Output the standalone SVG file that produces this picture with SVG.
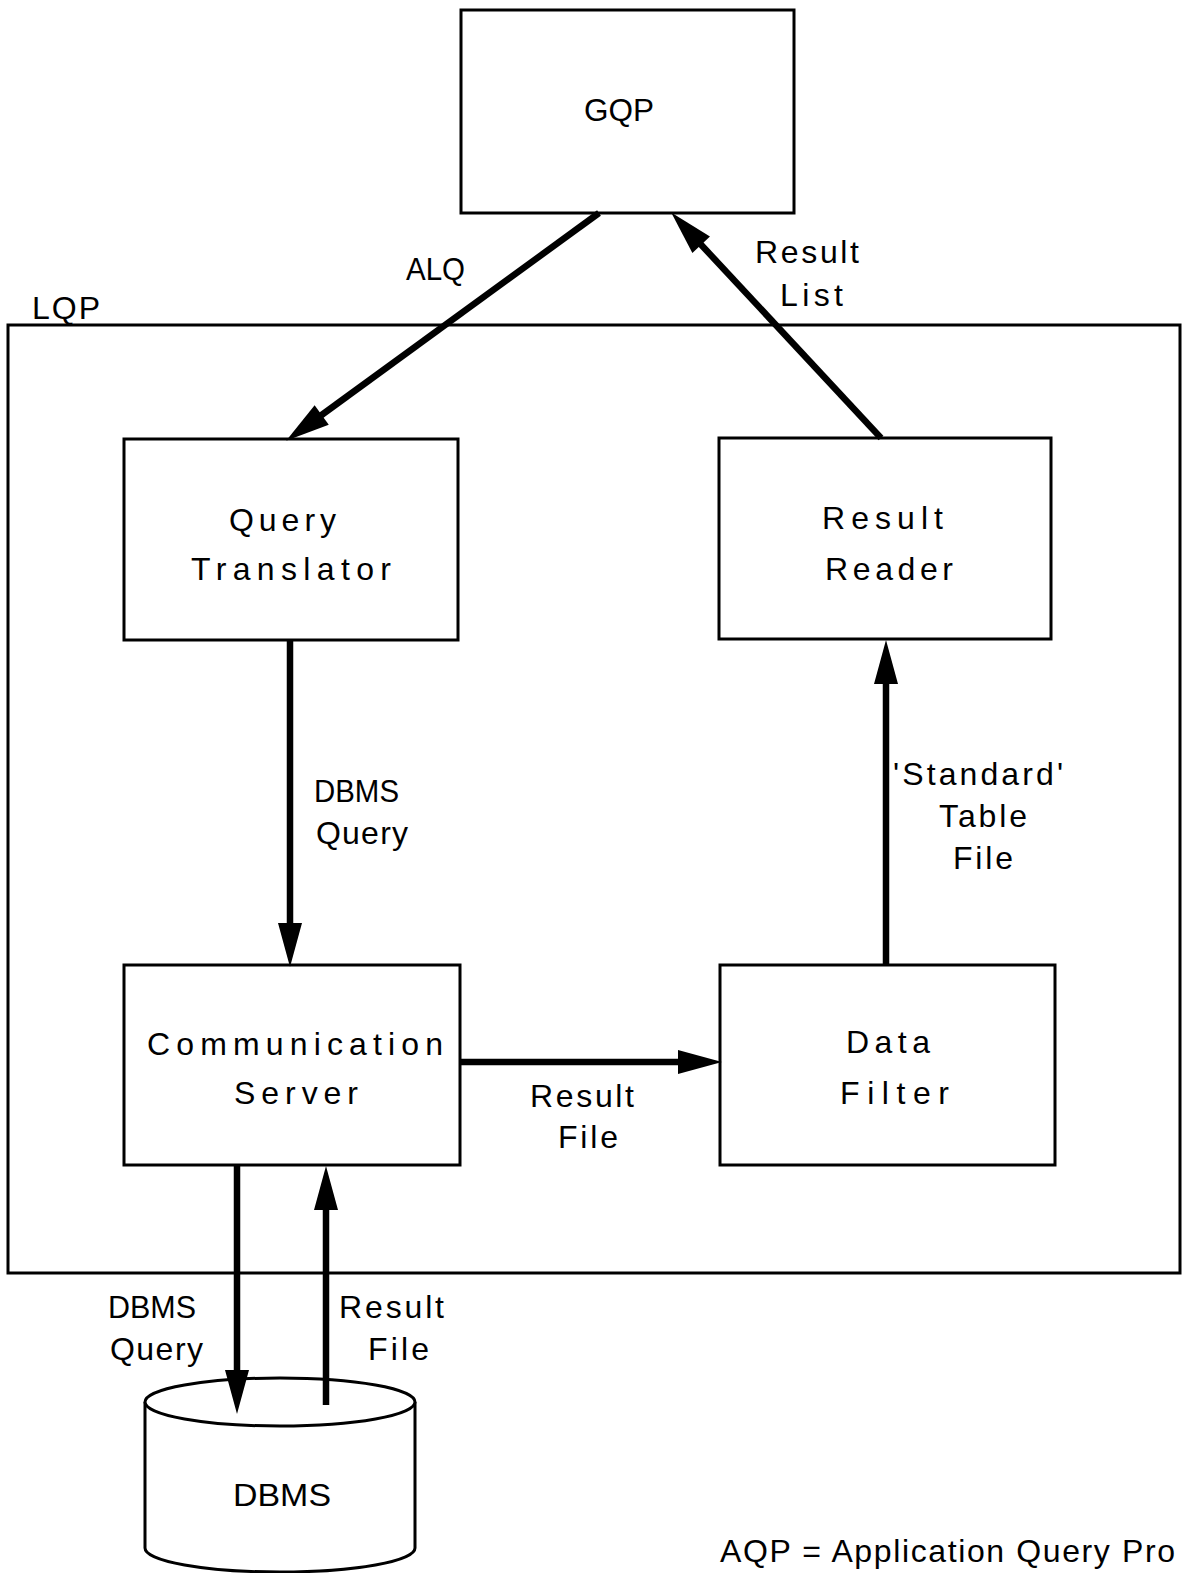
<svg xmlns="http://www.w3.org/2000/svg" width="1183" height="1573" viewBox="0 0 1183 1573">
<style>
.box{fill:none;stroke:#000;stroke-width:3}
.conn{fill:none;stroke:#000;stroke-width:6.5}
.t{font-family:"Liberation Sans",Arial,sans-serif;font-size:32px;fill:#000}
</style>
<defs>
<marker id="ah" markerUnits="userSpaceOnUse" markerWidth="44" markerHeight="24" refX="12" refY="12" orient="auto" overflow="visible">
<path d="M0,0 L44,12 L0,24 z" fill="#000"/>
</marker>
</defs>
<rect width="1183" height="1573" fill="#fff"/>
<g id="lqp">
<rect class="box" x="8" y="325" width="1172" height="948"/>
<text class="t" x="32" y="319" textLength="68" lengthAdjust="spacing">LQP</text>
</g>
<g id="gqp">
<rect class="box" x="461" y="10" width="333" height="203"/>
<text class="t" x="584" y="121" textLength="70" lengthAdjust="spacingAndGlyphs">GQP</text>
</g>
<g id="query-translator">
<rect class="box" x="124" y="439" width="334" height="201"/>
<text class="t" x="229" y="531" textLength="107" lengthAdjust="spacing">Query</text>
<text class="t" x="191" y="580" textLength="200" lengthAdjust="spacing">Translator</text>
</g>
<g id="result-reader">
<rect class="box" x="719" y="438" width="332" height="201"/>
<text class="t" x="822" y="529" textLength="121" lengthAdjust="spacing">Result</text>
<text class="t" x="825" y="580" textLength="128" lengthAdjust="spacing">Reader</text>
</g>
<g id="communication-server">
<rect class="box" x="124" y="965" width="336" height="200"/>
<text class="t" x="147" y="1055" textLength="296" lengthAdjust="spacing">Communication</text>
<text class="t" x="234" y="1104" textLength="124" lengthAdjust="spacing">Server</text>
</g>
<g id="data-filter">
<rect class="box" x="720" y="965" width="335" height="200"/>
<text class="t" x="846" y="1053" textLength="84" lengthAdjust="spacing">Data</text>
<text class="t" x="840" y="1104" textLength="109" lengthAdjust="spacing">Filter</text>
</g>
<g id="dbms">
<path d="M145,1402 L145,1548 A135,24 0 0 0 415,1548 L415,1402" fill="#fff" stroke="#000" stroke-width="3"/>
<ellipse cx="280" cy="1402" rx="135" ry="24" fill="#fff" stroke="#000" stroke-width="3"/>
<text class="t" x="233" y="1506" textLength="98" lengthAdjust="spacingAndGlyphs">DBMS</text>
</g>
<g id="connectors">
<line class="conn" x1="599" y1="213" x2="312" y2="422" marker-end="url(#ah)"/>
<line class="conn" x1="881" y1="438" x2="693" y2="236" marker-end="url(#ah)"/>
<line class="conn" x1="290" y1="640" x2="290" y2="935" marker-end="url(#ah)"/>
<line class="conn" x1="886" y1="965" x2="886" y2="672" marker-end="url(#ah)"/>
<line class="conn" x1="460" y1="1062" x2="690" y2="1062" marker-end="url(#ah)"/>
<line class="conn" x1="237" y1="1165" x2="237" y2="1382" marker-end="url(#ah)"/>
<line class="conn" x1="326" y1="1405" x2="326" y2="1198" marker-end="url(#ah)"/>
<text class="t" x="406" y="280" textLength="59" lengthAdjust="spacingAndGlyphs">ALQ</text>
<text class="t" x="755" y="263" textLength="104" lengthAdjust="spacing">Result</text>
<text class="t" x="780" y="306" textLength="63" lengthAdjust="spacing">List</text>
<text class="t" x="314" y="802" textLength="85" lengthAdjust="spacingAndGlyphs">DBMS</text>
<text class="t" x="316" y="844" textLength="92" lengthAdjust="spacing">Query</text>
<text class="t" x="893" y="785" textLength="170" lengthAdjust="spacing">'Standard'</text>
<text class="t" x="939" y="827" textLength="88" lengthAdjust="spacing">Table</text>
<text class="t" x="953" y="869" textLength="60" lengthAdjust="spacing">File</text>
<text class="t" x="530" y="1107" textLength="104" lengthAdjust="spacing">Result</text>
<text class="t" x="558" y="1148" textLength="60" lengthAdjust="spacing">File</text>
<text class="t" x="108" y="1318" textLength="88" lengthAdjust="spacingAndGlyphs">DBMS</text>
<text class="t" x="110" y="1360" textLength="93" lengthAdjust="spacing">Query</text>
<text class="t" x="339" y="1318" textLength="105" lengthAdjust="spacing">Result</text>
<text class="t" x="368" y="1360" textLength="61" lengthAdjust="spacing">File</text>
</g>
<text class="t" x="720" y="1562" textLength="455" lengthAdjust="spacing">AQP = Application Query Pro</text>
</svg>
